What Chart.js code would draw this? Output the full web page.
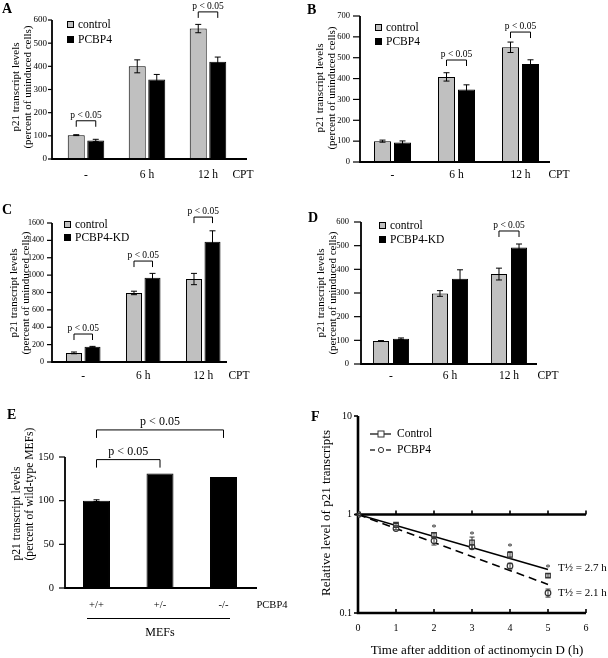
<!DOCTYPE html>
<html lang="en">
<head>
<meta charset="UTF-8">
<title>p21 transcript levels</title>
<script src="https://cdn.jsdelivr.net/npm/chart.js"></script>
<style>
  body { margin: 0; background: #fff; }
  #wrap { position: relative; width: 608px; height: 658px; overflow: hidden;
          font-family: "Liberation Serif", "Times New Roman", serif; color: #000; }
  canvas { position: absolute; left: 0; top: 0; }
  .t { position: absolute; white-space: nowrap; line-height: 1; }
  .c { transform: translate(-50%, -50%); }
  .panel { font-weight: bold; font-size: 14px; }
  .leg { position: absolute; transform: translateY(-50%); font-size: 11.5px; display: flex; align-items: center; white-space: nowrap; }
  .sw { display: inline-block; width: 5px; height: 5px; border: 1px solid #000; margin-right: 4px; }
  .g { background: #c0c0c0; }
  .k { background: #000; }
  .ytl { position: absolute; white-space: nowrap; text-align: center; font-size: 11px; line-height: 12px;
         transform: translate(-50%, -50%) rotate(-90deg); }
</style>
</head>
<body>
<div id="wrap">
  <canvas id="cA" width="608" height="658"></canvas>
  <canvas id="cB" width="608" height="658"></canvas>
  <canvas id="cC" width="608" height="658"></canvas>
  <canvas id="cD" width="608" height="658"></canvas>
  <canvas id="cE" width="608" height="658"></canvas>
  <canvas id="cF" width="608" height="658"></canvas>

  <div class="t panel" style="left:2px;top:2px">A</div>
  <div class="t panel" style="left:307px;top:3px">B</div>
  <div class="t panel" style="left:2px;top:203px">C</div>
  <div class="t panel" style="left:308px;top:211px">D</div>
  <div class="t panel" style="left:7px;top:408px">E</div>
  <div class="t panel" style="left:311px;top:410px">F</div>

  <div class="ytl" style="left:21px;top:87px">p21 transcript levels<br>(percent of uninduced cells)</div>
  <div class="ytl" style="left:325px;top:88px">p21 transcript levels<br>(percent of uninduced cells)</div>
  <div class="ytl" style="left:19px;top:293px">p21 transcript levels<br>(percent of uninduced cells)</div>
  <div class="ytl" style="left:326px;top:293px">p21 transcript levels<br>(percent of uninduced cells)</div>
  <div class="ytl" style="left:23px;top:494px;font-size:11.6px;line-height:12.5px;text-align:left">p21 transcript levels<br>(percent of wild-type MEFs)</div>
  <div class="ytl" style="left:325px;top:513px;font-size:13px;line-height:13px">Relative level of p21 transcripts</div>

  <div class="leg" style="left:67px;top:24px"><i class="sw g"></i>control</div>
  <div class="leg" style="left:67px;top:39px"><i class="sw k"></i>PCBP4</div>
  <div class="leg" style="left:375px;top:27px"><i class="sw g"></i>control</div>
  <div class="leg" style="left:375px;top:41px"><i class="sw k"></i>PCBP4</div>
  <div class="leg" style="left:64px;top:224px"><i class="sw g"></i>control</div>
  <div class="leg" style="left:64px;top:237px"><i class="sw k"></i>PCBP4-KD</div>
  <div class="leg" style="left:379px;top:225px"><i class="sw g"></i>control</div>
  <div class="leg" style="left:379px;top:239px"><i class="sw k"></i>PCBP4-KD</div>

  <div class="t c" style="left:243px;top:175px;font-size:11.5px">CPT</div>
  <div class="t c" style="left:559px;top:175px;font-size:11.5px">CPT</div>
  <div class="t c" style="left:239px;top:376px;font-size:11.5px">CPT</div>
  <div class="t c" style="left:548px;top:376px;font-size:11.5px">CPT</div>

  <div class="t c" style="left:272px;top:605px;font-size:10.5px">PCBP4</div>
  <div style="position:absolute;left:87px;top:618px;width:143px;border-top:1px solid #000"></div>
  <div class="t c" style="left:160px;top:632px;font-size:12px">MEFs</div>

  <svg style="position:absolute;left:368px;top:428px" width="26" height="28">
    <line x1="2" y1="6" x2="23" y2="6" stroke="#000" stroke-width="1.2"/>
    <rect x="10" y="3" width="6" height="6" fill="#fff" stroke="#333" stroke-width="1"/>
    <line x1="2" y1="22" x2="7" y2="22" stroke="#000" stroke-width="1.2"/>
    <line x1="18" y1="22" x2="23" y2="22" stroke="#000" stroke-width="1.2"/>
    <circle cx="13" cy="22" r="2.6" fill="#fff" stroke="#333" stroke-width="1"/>
  </svg>
  <div class="t" style="left:397px;top:428px;font-size:11.5px">Control</div>
  <div class="t" style="left:397px;top:444px;font-size:11.5px">PCBP4</div>
  <div class="t" style="left:558px;top:562px;font-size:11px">T½ = 2.7 h</div>
  <div class="t" style="left:558px;top:587px;font-size:11px">T½ = 2.1 h</div>
  <div class="t c" style="left:477px;top:649px;font-size:13px">Time after addition of actinomycin D (h)</div>
</div>

<script>
  // ---- data ----
  const cptLabels = ['-', '6 h', '12 h'];

  const ctrlA = [103, 400, 563];
  const ctrlErrA = [2, 28, 18];
  const pcbpA = [80, 343, 420];
  const pcbpErrA = [5, 22, 20];
  const sigA = [[0, 165], [2, 635]];   // [category, bracket level]

  const ctrlB = [100, 408, 550];
  const ctrlErrB = [5, 20, 25];
  const pcbpB = [93, 348, 470];
  const pcbpErrB = [8, 22, 20];
  const sigB = [[1, 489], [2, 623]];

  const ctrlC = [105, 795, 955];
  const ctrlErrC = [10, 20, 65];
  const kdC = [175, 970, 1385];
  const kdErrC = [5, 50, 125];
  const sigC = [[0, 322], [1, 1162], [2, 1668]];

  const ctrlD = [97, 298, 380];
  const ctrlErrD = [2, 12, 25];
  const kdD = [107, 360, 492];
  const kdErrD = [3, 38, 15];
  const sigD = [[2, 562]];

  const mefLabels = ['+/+', '+/-', '-/-'];
  const mefE = [100, 131, 127];
  const mefErrE = [1, 0, 0];
  const sigE = [[0, 1, 147], [0, 2, 181]];  // [from, to, bracket level]

  const hoursF = [0, 1, 2, 3, 4, 5];
  const ctrlF = [1, 0.79, 0.62, 0.52, 0.39, 0.24];
  const ctrlErrF = [0.02, 0.02, 0.03, 0.07, 0.03, 0.01];
  const pcbpF = [1, 0.72, 0.54, 0.47, 0.30, 0.16];
  const pcbpErrF = [0.02, 0.02, 0.05, 0.02, 0.02, 0.015];
  const starF = [false, false, true, true, true, true];
  const fitHoursF = [0, 5];
  const fitCtrlF = [1, 0.277];
  const fitPcbpF = [1, 0.195];
  const yTicksF = [0.1, 1, 10];

  const W = 608, H = 658;
  const SERIF = '"Liberation Serif", "Times New Roman", serif';
  const GREY = '#c0c0c0';
  const noGrid = { display: false, drawTicks: false };

  function barDeco(p) {
    return {
      id: 'barDeco',
      afterDatasetsDraw(chart) {
        const { ctx, scales: { y } } = chart;
        const y0 = y.getPixelForValue(0);
        ctx.save();
        ctx.strokeStyle = '#000';
        ctx.fillStyle = '#000';
        // axes
        ctx.lineWidth = 1.8;
        ctx.beginPath();
        ctx.moveTo(p.axisX, y.getPixelForValue(p.yMax));
        ctx.lineTo(p.axisX, y0);
        ctx.lineTo(p.axisEnd, y0);
        ctx.stroke();
        ctx.lineWidth = 1.2;
        y.ticks.forEach(t => {
          const py = y.getPixelForValue(t.value);
          ctx.beginPath();
          ctx.moveTo(p.axisX - p.tickLen, py);
          ctx.lineTo(p.axisX, py);
          ctx.stroke();
        });
        // error bars
        ctx.lineWidth = 1;
        chart.data.datasets.forEach((ds, i) => {
          chart.getDatasetMeta(i).data.forEach((bar, j) => {
            const e = ds.err[j];
            if (!e) return;
            const top = y.getPixelForValue(ds.data[j] + e);
            const bot = y.getPixelForValue(ds.data[j] - e);
            ctx.beginPath();
            ctx.moveTo(bar.x, top); ctx.lineTo(bar.x, bot);
            ctx.moveTo(bar.x - 3, top); ctx.lineTo(bar.x + 3, top);
            ctx.moveTo(bar.x - 3, bot); ctx.lineTo(bar.x + 3, bot);
            ctx.stroke();
          });
        });
        // significance brackets
        ctx.font = p.pFont + 'px ' + SERIF;
        ctx.textAlign = 'center';
        ctx.textBaseline = 'alphabetic';
        p.sig.forEach(s => {
          let x1, x2, lv;
          if (s.length === 2) {
            x1 = chart.getDatasetMeta(0).data[s[0]].x;
            x2 = chart.getDatasetMeta(1).data[s[0]].x;
            lv = s[1];
          } else {
            x1 = chart.getDatasetMeta(0).data[s[0]].x;
            x2 = chart.getDatasetMeta(0).data[s[1]].x;
            lv = s[2];
          }
          const py = y.getPixelForValue(lv);
          ctx.beginPath();
          ctx.moveTo(x1, py + p.drop); ctx.lineTo(x1, py);
          ctx.lineTo(x2, py); ctx.lineTo(x2, py + p.drop);
          ctx.stroke();
          ctx.fillText('p < 0.05', (x1 + x2) / 2, py - p.textGap);
        });
        ctx.restore();
      }
    };
  }

  function barChart(id, p) {
    const datasets = p.series.map(s => ({
      data: s.values, err: s.err,
      backgroundColor: s.fill, borderColor: '#000', borderWidth: 1,
      categoryPercentage: p.cp, barPercentage: p.bp
    }));
    return new Chart(document.getElementById(id), {
      type: 'bar',
      data: { labels: p.labels, datasets },
      options: {
        responsive: false, animation: false, events: [],
        layout: { padding: { left: p.area.l - 40, right: W - p.area.r, top: p.area.t, bottom: H - p.area.b - 30 } },
        plugins: { legend: { display: false }, tooltip: { enabled: false } },
        scales: {
          x: {
            grid: noGrid, border: { display: false },
            ticks: { color: '#000', autoSkip: false, maxRotation: 0, font: { family: SERIF, size: p.xFont }, padding: p.xPad },
            afterFit: s => { s.height = 30; }
          },
          y: {
            min: 0, max: p.yMax,
            grid: noGrid, border: { display: false },
            ticks: { stepSize: p.step, autoSkip: false, color: '#000', font: { family: SERIF, size: p.yFont },
                     padding: p.area.l - p.axisX + p.labelGap, callback: v => String(v) },
            afterFit: s => { s.width = 40; }
          }
        }
      },
      plugins: [barDeco(p)]
    });
  }

  const common = { tickLen: 4, labelGap: 5, yFont: 9, xFont: 11.5, pFont: 9.5, drop: 6, textGap: 3 };

  barChart('cA', Object.assign({}, common, {
    labels: cptLabels, area: { l: 55.5, r: 238.5, t: 20, b: 159 }, axisX: 52, axisEnd: 247,
    yMax: 600, step: 100, xPad: 9.4, cp: 0.64, bp: 0.87, sig: sigA,
    series: [{ values: ctrlA, err: ctrlErrA, fill: GREY }, { values: pcbpA, err: pcbpErrA, fill: '#000' }]
  }));

  barChart('cB', Object.assign({}, common, {
    labels: cptLabels, area: { l: 360.5, r: 552.5, t: 16, b: 162 }, axisX: 360, axisEnd: 550,
    yMax: 700, step: 100, xPad: 6.4, cp: 0.625, bp: 0.85, sig: sigB,
    tickLen: 7, labelGap: 10, yFont: 8.5,
    series: [{ values: ctrlB, err: ctrlErrB, fill: GREY }, { values: pcbpB, err: pcbpErrB, fill: '#000' }]
  }));

  barChart('cC', Object.assign({}, common, {
    labels: cptLabels, area: { l: 53.25, r: 233.25, t: 223, b: 362 }, axisX: 52, axisEnd: 227,
    yMax: 1600, step: 200, xPad: 7.4, cp: 0.617, bp: 0.865, sig: sigC,
    tickLen: 5, labelGap: 8, yFont: 8,
    series: [{ values: ctrlC, err: ctrlErrC, fill: GREY }, { values: kdC, err: kdErrC, fill: '#000' }]
  }));

  barChart('cD', Object.assign({}, common, {
    labels: cptLabels, area: { l: 361.5, r: 538.5, t: 222, b: 364 }, axisX: 361, axisEnd: 537,
    yMax: 600, step: 100, xPad: 5.4, cp: 0.68, bp: 0.8, sig: sigD,
    tickLen: 7, labelGap: 12, yFont: 8.5,
    series: [{ values: ctrlD, err: ctrlErrD, fill: GREY }, { values: kdD, err: kdErrD, fill: '#000' }]
  }));

  barChart('cE', Object.assign({}, common, {
    labels: mefLabels, area: { l: 64.75, r: 255.25, t: 457, b: 588 }, axisX: 65, axisEnd: 257,
    yMax: 150, step: 50, xPad: 11, cp: 1, bp: 0.425, sig: sigE,
    tickLen: 6, labelGap: 11, yFont: 10.5, xFont: 10.5, pFont: 12, drop: 8, textGap: 5,
    series: [{ values: mefE, err: mefErrE, fill: '#000' }]
  }));

  // ---- panel F: decay on log scale ----
  const areaF = { l: 358, r: 586, t: 416, b: 613 };
  const decoF = {
    id: 'decoF',
    beforeDatasetsDraw(chart) {
      const { ctx, scales: { x, y } } = chart;
      const y1 = y.getPixelForValue(1), yb = y.getPixelForValue(0.1), yt = y.getPixelForValue(10);
      const xl = x.getPixelForValue(0), xr = x.getPixelForValue(6);
      ctx.save();
      ctx.strokeStyle = '#000';
      ctx.lineWidth = 2.6;
      ctx.beginPath();
      ctx.moveTo(xl, yt); ctx.lineTo(xl, yb); ctx.lineTo(xr, yb);
      ctx.moveTo(xl, y1); ctx.lineTo(xr, y1);
      ctx.stroke();
      ctx.lineWidth = 1.6;
      x.ticks.forEach(t => {
        const px = x.getPixelForValue(t.value);
        ctx.beginPath();
        ctx.moveTo(px, yb); ctx.lineTo(px, yb - 4);
        ctx.moveTo(px, y1); ctx.lineTo(px, y1 - 4);
        ctx.stroke();
      });
      y.ticks.forEach(t => {
        const py = y.getPixelForValue(t.value);
        ctx.beginPath();
        ctx.moveTo(xl - 4, py); ctx.lineTo(xl, py);
        ctx.stroke();
      });
      ctx.restore();
    },
    afterDatasetsDraw(chart) {
      const { ctx, scales: { x, y } } = chart;
      ctx.save();
      ctx.strokeStyle = '#333';
      ctx.lineWidth = 1;
      [[ctrlF, ctrlErrF], [pcbpF, pcbpErrF]].forEach(([vals, errs]) => {
        vals.forEach((v, i) => {
          const px = x.getPixelForValue(hoursF[i]);
          const top = y.getPixelForValue(v + errs[i]), bot = y.getPixelForValue(v - errs[i]);
          ctx.beginPath();
          ctx.moveTo(px, top); ctx.lineTo(px, bot);
          ctx.moveTo(px - 2.5, top); ctx.lineTo(px + 2.5, top);
          ctx.moveTo(px - 2.5, bot); ctx.lineTo(px + 2.5, bot);
          ctx.stroke();
        });
      });
      ctx.fillStyle = '#222';
      ctx.font = '10px ' + SERIF;
      ctx.textAlign = 'center';
      ctx.textBaseline = 'middle';
      starF.forEach((s, i) => {
        if (!s) return;
        ctx.fillText('*', x.getPixelForValue(hoursF[i]), y.getPixelForValue(ctrlF[i]) - 7);
      });
      ctx.restore();
    }
  };

  new Chart(document.getElementById('cF'), {
    type: 'scatter',
    data: {
      datasets: [
        { label: 'Control', data: hoursF.map((h, i) => ({ x: h, y: ctrlF[i] })), showLine: false,
          pointStyle: 'rect', pointRadius: 3.2, borderColor: '#333', backgroundColor: '#fff', borderWidth: 1.2 },
        { label: 'PCBP4', data: hoursF.map((h, i) => ({ x: h, y: pcbpF[i] })), showLine: false,
          pointStyle: 'circle', pointRadius: 2.8, borderColor: '#333', backgroundColor: '#fff', borderWidth: 1.2 },
        { label: 'Control fit', data: fitHoursF.map((h, i) => ({ x: h, y: fitCtrlF[i] })), showLine: true,
          borderColor: '#000', borderWidth: 1.6, pointRadius: 0 },
        { label: 'PCBP4 fit', data: fitHoursF.map((h, i) => ({ x: h, y: fitPcbpF[i] })), showLine: true,
          borderColor: '#000', borderWidth: 1.6, borderDash: [8, 5], pointRadius: 0 }
      ]
    },
    options: {
      responsive: false, animation: false, events: [],
      layout: { padding: { left: areaF.l - 40, right: W - areaF.r, top: areaF.t, bottom: H - areaF.b - 30 } },
      plugins: { legend: { display: false }, tooltip: { enabled: false } },
      scales: {
        x: {
          type: 'linear', min: 0, max: 6,
          grid: noGrid, border: { display: false },
          ticks: { stepSize: 1, color: '#000', font: { family: SERIF, size: 10 }, padding: 9 },
          afterFit: s => { s.height = 30; }
        },
        y: {
          type: 'logarithmic', min: 0.1, max: 10,
          grid: noGrid, border: { display: false },
          afterBuildTicks: s => { s.ticks = yTicksF.map(v => ({ value: v })); },
          ticks: { color: '#000', font: { family: SERIF, size: 10 }, padding: 6, callback: v => String(v) },
          afterFit: s => { s.width = 40; }
        }
      }
    },
    plugins: [decoF]
  });
</script>
</body>
</html>
